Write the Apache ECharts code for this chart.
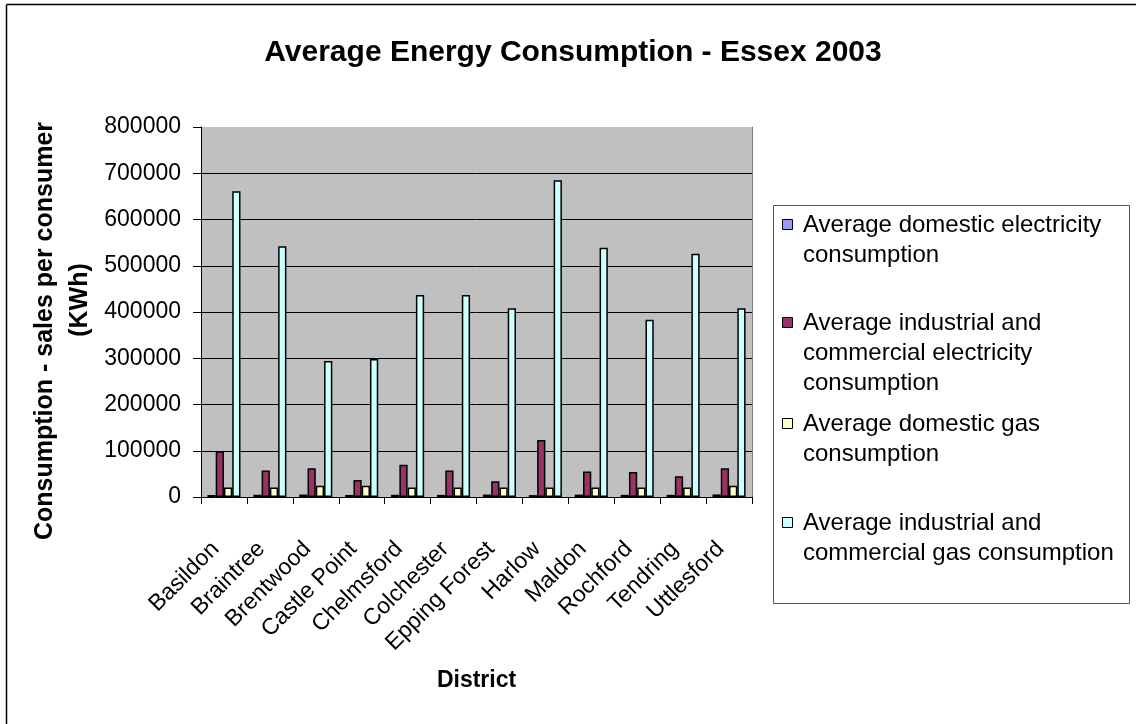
<!DOCTYPE html>
<html>
<head>
<meta charset="utf-8">
<title>Average Energy Consumption - Essex 2003</title>
<script src="https://cdn.jsdelivr.net/npm/echarts@6/dist/echarts.min.js"></script>
<style>
  html, body { margin: 0; padding: 0; background: #ffffff; }
  #chart { width: 1136px; height: 724px; }
</style>
</head>
<body>
<div id="chart"></div>
<script>
// Districts of Essex
const categories = ['Basildon', 'Braintree', 'Brentwood', 'Castle Point', 'Chelmsford', 'Colchester',
  'Epping Forest', 'Harlow', 'Maldon', 'Rochford', 'Tendring', 'Uttlesford'];

// Series names and the wrapped text shown in the legend box
const seriesNames = [
  'Average domestic electricity consumption',
  'Average industrial and commercial electricity consumption',
  'Average domestic gas consumption',
  'Average industrial and commercial gas consumption'
];
const legendLabels = [
  'Average domestic electricity\nconsumption',
  'Average industrial and\ncommercial electricity\nconsumption',
  'Average domestic gas\nconsumption',
  'Average industrial and\ncommercial gas consumption'
];
const seriesColors = ['#9999FF', '#993366', '#FFFFCC', '#CCFFFF'];

// Sales per consumer (kWh), 2003
const domesticElectricity = [4300, 4900, 5300, 4400, 4800, 4600, 5300, 4100, 5200, 4600, 4700, 5600];
const industrialElectricity = [99000, 57500, 62000, 37000, 70000, 57500, 34000, 123000, 55000, 54000, 45000, 62000];
const domesticGas = [20500, 20500, 24500, 24500, 20500, 20500, 20500, 20500, 20500, 20500, 20500, 24500];
const industrialGas = [661000, 542000, 294000, 298500, 437000, 437000, 408000, 685000, 539000, 383000, 526000, 408000];

// Value axis range
const yMin = 0;
const yMax = 800000;
const yStep = 100000;

const seriesData = [domesticElectricity, industrialElectricity, domesticGas, industrialGas];
const FONT = '"Liberation Sans", Arial, Helvetica, sans-serif';

const chart = echarts.init(document.getElementById('chart'), null, { renderer: 'canvas' });

// Legend drawn as a framed block to the right of the plot
const legendX = 773, legendY = 205, legendW = 356, legendH = 398;
const legendFirstLine = [225, 323, 424, 523];
const legendLineHeight = 30;
const legendChildren = [{
  type: 'rect',
  shape: { x: legendX + 0.5, y: legendY + 0.5, width: legendW, height: legendH },
  style: { fill: '#ffffff', stroke: '#555555', lineWidth: 1 }
}];
legendLabels.forEach((label, i) => {
  legendChildren.push({
    type: 'rect',
    shape: { x: 782.5, y: legendFirstLine[i] - 5.5, width: 10, height: 10 },
    style: { fill: seriesColors[i], stroke: '#000000', lineWidth: 1 }
  });
  legendChildren.push({
    type: 'text',
    style: {
      x: 803, y: legendFirstLine[i] - legendLineHeight / 2,
      text: label,
      font: '24px ' + FONT,
      lineHeight: legendLineHeight,
      fill: '#000000',
      verticalAlign: 'top',
      align: 'left'
    }
  });
});

const option = {
  animation: false,
  backgroundColor: '#ffffff',
  title: {
    text: 'Average Energy Consumption - Essex 2003',
    left: 568,
    textAlign: 'center',
    top: 33,
    textStyle: { fontFamily: FONT, fontSize: 30, fontWeight: 'bold', color: '#000000' }
  },
  grid: {
    left: 201, right: 384, top: 127, bottom: 227,
    show: true, backgroundColor: '#C0C0C0', borderWidth: 0
  },
  xAxis: {
    type: 'category',
    data: categories,
    boundaryGap: true,
    name: 'District',
    nameLocation: 'middle',
    nameGap: 172,
    nameTextStyle: { fontFamily: FONT, fontSize: 23, fontWeight: 'bold', color: '#000000' },
    axisLine: { show: true, lineStyle: { color: '#000000', width: 1 } },
    axisTick: { show: true, length: 7, lineStyle: { color: '#000000', width: 1 } },
    axisLabel: {
      interval: 0, rotate: 45, margin: 40,
      padding: [0, 12, 0, 0],
      fontFamily: FONT, fontSize: 23, color: '#000000'
    },
    splitLine: { show: false }
  },
  yAxis: [{
    type: 'value',
    min: yMin, max: yMax, interval: yStep,
    axisLine: { show: true, lineStyle: { color: '#000000', width: 1 } },
    axisTick: { show: true, length: 8, lineStyle: { color: '#000000', width: 1 } },
    axisLabel: {
      margin: 20, fontFamily: FONT, fontSize: 23, color: '#000000',
      formatter: (v) => String(v)
    },
    splitLine: { show: true, showMinLine: false, showMaxLine: false, lineStyle: { color: '#000000', width: 1 } }
  }, {
    // right edge of the plot frame
    type: 'value',
    position: 'right',
    min: yMin, max: yMax, interval: yStep,
    axisLine: { show: true, lineStyle: { color: '#808080', width: 1 } },
    axisTick: { show: false },
    axisLabel: { show: false },
    splitLine: { show: false }
  }],
  series: seriesNames.map((name, i) => ({
    name: name,
    type: 'bar',
    yAxisIndex: 0,
    data: seriesData[i],
    barGap: '0%',
    barCategoryGap: '28%',
    itemStyle: { color: seriesColors[i], borderColor: '#000000', borderWidth: 1.5 }
  })),
  graphic: [
    // outer frame (left and top edges)
    { type: 'line', shape: { x1: 6.5, y1: 4.5, x2: 1136, y2: 4.5 }, style: { stroke: '#000000', lineWidth: 1.5 } },
    { type: 'line', shape: { x1: 6.5, y1: 4.5, x2: 6.5, y2: 724 }, style: { stroke: '#000000', lineWidth: 1.5 } },
    // value axis title, two wrapped lines
    {
      type: 'text', x: 45, y: 331, rotation: Math.PI / 2,
      style: { text: 'Consumption - sales per consumer', font: 'bold 25px ' + FONT, fill: '#000000', align: 'center', verticalAlign: 'middle' }
    },
    {
      type: 'text', x: 80, y: 300, rotation: Math.PI / 2,
      style: { text: '(KWh)', font: 'bold 25px ' + FONT, fill: '#000000', align: 'center', verticalAlign: 'middle' }
    },
    { type: 'group', children: legendChildren }
  ]
};

chart.setOption(option);
</script>
</body>
</html>
